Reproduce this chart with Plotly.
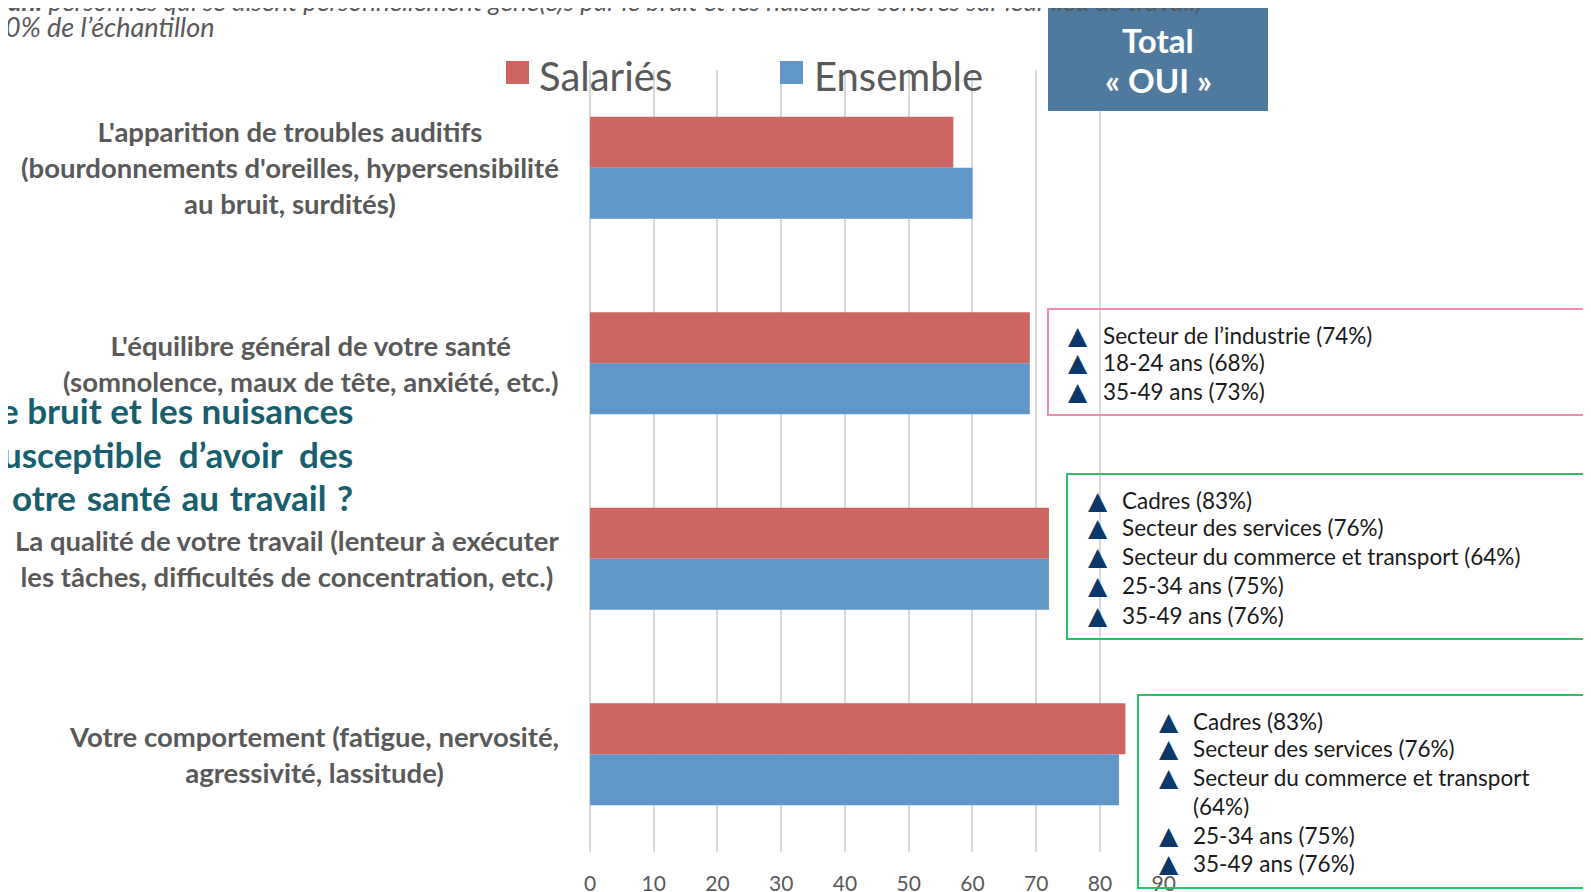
import plotly.graph_objects as go

# ---------------- data ----------------
categories = [
    "L'apparition de troubles auditifs<br>(bourdonnements d'oreilles, hypersensibilité<br>au bruit, surdités)",
    "L'équilibre général de votre santé<br>(somnolence, maux de tête, anxiété, etc.)",
    "La qualité de votre travail (lenteur à exécuter<br>les tâches, difficultés de concentration, etc.)",
    "Votre comportement (fatigue, nervosité,<br>agressivité, lassitude)",
]
salaries = [57, 69, 72, 84]
ensemble = [60, 69, 72, 83]
x_ticks = [0, 10, 20, 30, 40, 50, 60, 70, 80, 90]

box_sante = ["Secteur de l’industrie (74%)", "18-24 ans (68%)", "35-49 ans (73%)"]
box_travail = ["Cadres (83%)", "Secteur des services (76%)",
               "Secteur du commerce et transport (64%)", "25-34 ans (75%)", "35-49 ans (76%)"]
box_comport = ["Cadres (83%)", "Secteur des services (76%)",
               "Secteur du commerce et transport", "(64%)", "25-34 ans (75%)", "35-49 ans (76%)"]

RED = "#CD6660"
BLUE = "#6196C9"
GREY = "#595959"
FONT = "Lato, 'Open Sans', sans-serif"

W, H = 1591, 892
OFF = 8  # page body margin
# plot area in page pixels
L, R, T, B = 590, 1164, 70, 852


def px(x):
    return (x - L) / (R - L)


def py(y):
    return (B - y) / (B - T)


fig = go.Figure()
fig.add_trace(go.Bar(y=categories, x=salaries, orientation="h", name="Salariés",
                     marker=dict(color=RED, line=dict(width=0)), showlegend=False))
fig.add_trace(go.Bar(y=categories, x=ensemble, orientation="h", name="Ensemble",
                     marker=dict(color=BLUE, line=dict(width=0)), showlegend=False))

annotations = []
shapes = []

# category labels (centered multi-line)
for c in categories:
    annotations.append(dict(x=0, xref="paper", y=c, yref="y", xshift=-29,
                            xanchor="right", yanchor="middle", align="center",
                            text="<b>" + c + "</b>", showarrow=False,
                            font=dict(family=FONT, size=27.5, color=GREY)))

# header text (partially clipped at top)
annotations.append(dict(x=px(6), y=py(1), xref="paper", yref="paper", xanchor="left",
                        yanchor="middle", showarrow=False,
                        text="<b><i>an:</i></b><i> personnes qui se disent personnellement gêné(e)s par le bruit et les nuisances sonores sur leur lieu de travail)</i>",
                        font=dict(family=FONT, size=26, color=GREY)))
annotations.append(dict(x=px(3), y=py(26.5), xref="paper", yref="paper", xanchor="left",
                        yanchor="middle", showarrow=False,
                        text="<i>0% de l’échantillon</i>",
                        font=dict(family=FONT, size=27, color=GREY)))

# teal background question text (justified lines)
hs = "\u00a0\u200a"
teal_lines = ["e bruit et les nuisances", "usceptible\u00a0\u00a0d’avoir\u00a0\u00a0des",
              "otre" + hs + "santé" + hs + "au" + hs + "travail" + hs + "?"]
for t, yy in zip(teal_lines, [410, 453.5, 497]):
    annotations.append(dict(x=px(355), y=py(yy), xref="paper", yref="paper",
                            xanchor="right", yanchor="middle", showarrow=False,
                            text="<b>" + t + "</b>",
                            font=dict(family=FONT, size=35, color="#175E6E")))

# custom legend
shapes.append(dict(type="rect", xref="paper", yref="paper", x0=px(506), x1=px(529),
                   y0=py(84), y1=py(61), fillcolor=RED, line=dict(width=0)))
shapes.append(dict(type="rect", xref="paper", yref="paper", x0=px(780), x1=px(803),
                   y0=py(84), y1=py(61), fillcolor=BLUE, line=dict(width=0)))
annotations.append(dict(x=px(537), y=py(76), xref="paper", yref="paper", xanchor="left",
                        yanchor="middle", showarrow=False, text="Salariés",
                        font=dict(family=FONT, size=40, color=GREY)))
annotations.append(dict(x=px(812), y=py(76), xref="paper", yref="paper", xanchor="left",
                        yanchor="middle", showarrow=False, text="Ensemble",
                        font=dict(family=FONT, size=40, color=GREY)))

# Total box
shapes.append(dict(type="rect", xref="paper", yref="paper", x0=px(1048), x1=px(1268),
                   y0=py(111), y1=py(8), fillcolor="#4F7A9E", line=dict(width=0)))
annotations.append(dict(x=px(1158), y=py(40), xref="paper", yref="paper", xanchor="center",
                        yanchor="middle", showarrow=False, text="<b>Total</b>",
                        font=dict(family=FONT, size=33, color="white")))
annotations.append(dict(x=px(1158), y=py(80), xref="paper", yref="paper", xanchor="center",
                        yanchor="middle", showarrow=False, text="<b>« OUI »</b>",
                        font=dict(family=FONT, size=33, color="white")))


# sub-group boxes
def add_box(x0, y0, x1, y1, color, lines, ys, tri_x, text_x, no_tri=()):
    shapes.append(dict(type="rect", xref="paper", yref="paper", x0=px(x0), x1=px(x1),
                       y0=py(y1), y1=py(y0), fillcolor="rgba(0,0,0,0)",
                       line=dict(color=color, width=2)))
    for i, (t, yy) in enumerate(zip(lines, ys)):
        if i not in no_tri:
            annotations.append(dict(x=px(tri_x), y=py(yy), xref="paper", yref="paper",
                                    xanchor="left", yanchor="middle", showarrow=False,
                                    text="▲", font=dict(family="DejaVu Sans", size=25,
                                                        color="#0B3868")))
        annotations.append(dict(x=px(text_x), y=py(yy), xref="paper", yref="paper",
                                xanchor="left", yanchor="middle", showarrow=False,
                                text=t, font=dict(family=FONT, size=22.5, color="#1A1A1A")))


add_box(1048, 309, 1589, 415, "#F28AB0", box_sante, [335, 362, 391], 1066, 1101)
add_box(1067, 474, 1600, 639, "#2BBF6A", box_travail, [500, 527.5, 556, 585.5, 615],
        1086, 1120)
add_box(1138, 695, 1600, 888, "#2BBF6A", box_comport, [721, 748, 777, 806, 835, 863],
        1157, 1191, no_tri=(3,))

fig.update_layout(
    width=W, height=H, autosize=False,
    margin=dict(l=L - OFF, r=W - (R - OFF), t=T - OFF, b=H - (B - OFF), autoexpand=False),
    paper_bgcolor="white", plot_bgcolor="white",
    barmode="group", bargap=0.478, bargroupgap=0,
    xaxis=dict(range=[0, 90.05], tickvals=x_ticks, showgrid=True, gridcolor="#D9D9D9",
               gridwidth=2, zeroline=True, zerolinecolor="#D9D9D9", zerolinewidth=2,
               showline=False, ticks="", ticklabelstandoff=17, automargin=False,
               tickfont=dict(family=FONT, size=21, color=GREY), fixedrange=True),
    yaxis=dict(autorange="reversed", showticklabels=False, showgrid=False,
               zeroline=False, showline=False, ticks="", automargin=False),
    annotations=annotations, shapes=shapes,
)

fig.write_html("out.html")
